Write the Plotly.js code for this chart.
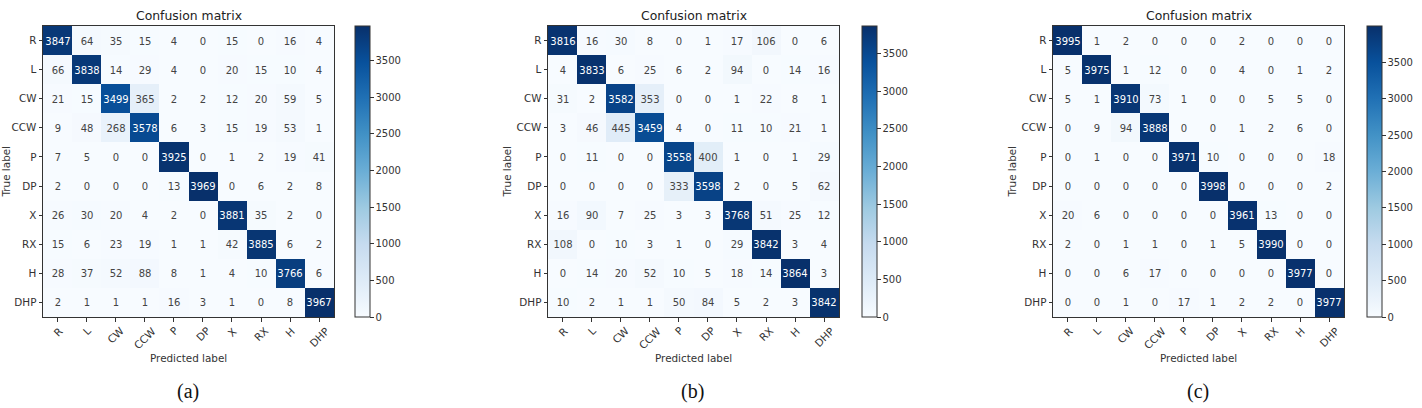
<!DOCTYPE html>
<html>
<head>
<meta charset="utf-8">
<script src="https://cdn.plot.ly/plotly-3.0.1.min.js"></script>
<style>html,body{margin:0;padding:0;background:#fff;}#chart{width:1422px;height:408px;}</style>
</head>
<body>
<div id="chart"></div>
<script>
const labels = ["R","L","CW","CCW","P","DP","X","RX","H","DHP"];

const matrixA = [
  [3847, 64, 35, 15, 4, 0, 15, 0, 16, 4],
  [66, 3838, 14, 29, 4, 0, 20, 15, 10, 4],
  [21, 15, 3499, 365, 2, 2, 12, 20, 59, 5],
  [9, 48, 268, 3578, 6, 3, 15, 19, 53, 1],
  [7, 5, 0, 0, 3925, 0, 1, 2, 19, 41],
  [2, 0, 0, 0, 13, 3969, 0, 6, 2, 8],
  [26, 30, 20, 4, 2, 0, 3881, 35, 2, 0],
  [15, 6, 23, 19, 1, 1, 42, 3885, 6, 2],
  [28, 37, 52, 88, 8, 1, 4, 10, 3766, 6],
  [2, 1, 1, 1, 16, 3, 1, 0, 8, 3967]
];

const matrixB = [
  [3816, 16, 30, 8, 0, 1, 17, 106, 0, 6],
  [4, 3833, 6, 25, 6, 2, 94, 0, 14, 16],
  [31, 2, 3582, 353, 0, 0, 1, 22, 8, 1],
  [3, 46, 445, 3459, 4, 0, 11, 10, 21, 1],
  [0, 11, 0, 0, 3558, 400, 1, 0, 1, 29],
  [0, 0, 0, 0, 333, 3598, 2, 0, 5, 62],
  [16, 90, 7, 25, 3, 3, 3768, 51, 25, 12],
  [108, 0, 10, 3, 1, 0, 29, 3842, 3, 4],
  [0, 14, 20, 52, 10, 5, 18, 14, 3864, 3],
  [10, 2, 1, 1, 50, 84, 5, 2, 3, 3842]
];

const matrixC = [
  [3995, 1, 2, 0, 0, 0, 2, 0, 0, 0],
  [5, 3975, 1, 12, 0, 0, 4, 0, 1, 2],
  [5, 1, 3910, 73, 1, 0, 0, 5, 5, 0],
  [0, 9, 94, 3888, 0, 0, 1, 2, 6, 0],
  [0, 1, 0, 0, 3971, 10, 0, 0, 0, 18],
  [0, 0, 0, 0, 0, 3998, 0, 0, 0, 2],
  [20, 6, 0, 0, 0, 0, 3961, 13, 0, 0],
  [2, 0, 1, 1, 0, 1, 5, 3990, 0, 0],
  [0, 0, 6, 17, 0, 0, 0, 0, 3977, 0],
  [0, 0, 1, 0, 17, 1, 2, 2, 0, 3977]
];

const captions = ["(a)", "(b)", "(c)"];
const colorbarTicks = [0, 500, 1000, 1500, 2000, 2500, 3000, 3500];

const blues = [
  [0, "#f7fbff"], [0.125, "#deebf7"], [0.25, "#c6dbef"], [0.375, "#9ecae1"],
  [0.5, "#6baed6"], [0.625, "#4292c6"], [0.75, "#2171b5"], [0.875, "#08519c"], [1, "#08306b"]
];

const W = 1422, H = 408;
const FONT = "DejaVu Sans, Liberation Sans, sans-serif";
const TXT = "#333";
const plotTop = 26, plotBottom = 317;
const panelLeft = [43, 548, 1053];
const panelSize = 291;
const cbLeft = [355, 862, 1367];
const yTitleX = [6, 507, 1012];

const px = v => v / W;
const py = v => (H - v) / H;

const matrices = [matrixA, matrixB, matrixC];
const traces = [];
const layout = {
  width: W, height: H,
  margin: {l: 0, r: 0, t: 0, b: 0},
  paper_bgcolor: "#fff", plot_bgcolor: "#fff",
  font: {family: FONT, size: 10.4, color: TXT},
  showlegend: false,
  annotations: []
};

matrices.forEach((m, i) => {
  const sfx = i === 0 ? "" : String(i + 1);
  const xa = "x" + sfx, ya = "y" + sfx;
  traces.push({
    type: "heatmap",
    z: m, x: labels, y: labels,
    xaxis: xa, yaxis: ya,
    colorscale: blues,
    texttemplate: "%{z}",
    textfont: {family: FONT, size: 10},
    hoverongaps: false,
    colorbar: {
      x: px(cbLeft[i]), xanchor: "left", xpad: 0,
      y: py(plotBottom), yanchor: "bottom", ypad: 0,
      len: panelSize / H, lenmode: "fraction",
      thickness: 15, thicknessmode: "pixels",
      outlinewidth: 1, outlinecolor: "#333",
      ticks: "outside", ticklen: 3.5, tickcolor: "#333",
      tickvals: colorbarTicks,
      tickfont: {family: FONT, size: 10, color: TXT}
    }
  });
  const l = panelLeft[i];
  layout["xaxis" + sfx] = {
    domain: [px(l), px(l + panelSize)],
    anchor: ya,
    type: "category",
    showgrid: false, zeroline: false,
    showline: true, mirror: true, linecolor: "#333", linewidth: 1,
    ticks: "outside", ticklen: 3.5, tickcolor: "#333",
    showticklabels: false,
    fixedrange: true
  };
  layout["yaxis" + sfx] = {
    domain: [py(plotBottom), py(plotTop)],
    anchor: xa,
    type: "category",
    autorange: "reversed",
    showgrid: false, zeroline: false,
    showline: true, mirror: true, linecolor: "#333", linewidth: 1,
    ticks: "outside", ticklen: 3.5, tickcolor: "#333",
    tickfont: {family: FONT, size: 10.4, color: TXT},
    fixedrange: true
  };
  // rotated x tick labels, centred on each category
  labels.forEach(lab => {
    layout.annotations.push({
      xref: xa, yref: "paper", x: lab, y: py(322),
      xanchor: "center", yanchor: "top",
      text: lab, textangle: -45, showarrow: false,
      font: {family: FONT, size: 10.4, color: TXT}
    });
  });
  const cx = l + panelSize / 2;
  layout.annotations.push({
    xref: "paper", yref: "paper", x: px(cx), y: py(15.5),
    xanchor: "center", yanchor: "middle", showarrow: false,
    text: "Confusion matrix", font: {family: FONT, size: 12.4, color: "#222"}
  });
  layout.annotations.push({
    xref: "paper", yref: "paper", x: px(cx), y: py(358),
    xanchor: "center", yanchor: "middle", showarrow: false,
    text: "Predicted label", font: {family: FONT, size: 10.4, color: TXT}
  });
  layout.annotations.push({
    xref: "paper", yref: "paper", x: px(yTitleX[i]), y: py((plotTop + plotBottom) / 2),
    xanchor: "center", yanchor: "middle", showarrow: false, textangle: -90,
    text: "True label", font: {family: FONT, size: 10.4, color: TXT}
  });
  layout.annotations.push({
    xref: "paper", yref: "paper", x: px(cx - 1), y: py(391),
    xanchor: "center", yanchor: "middle", showarrow: false,
    text: captions[i], font: {family: "Liberation Serif, Times New Roman, serif", size: 20, color: "#111"}
  });
});

Plotly.newPlot("chart", traces, layout, {staticPlot: true, displayModeBar: false});
</script>
</body>
</html>
